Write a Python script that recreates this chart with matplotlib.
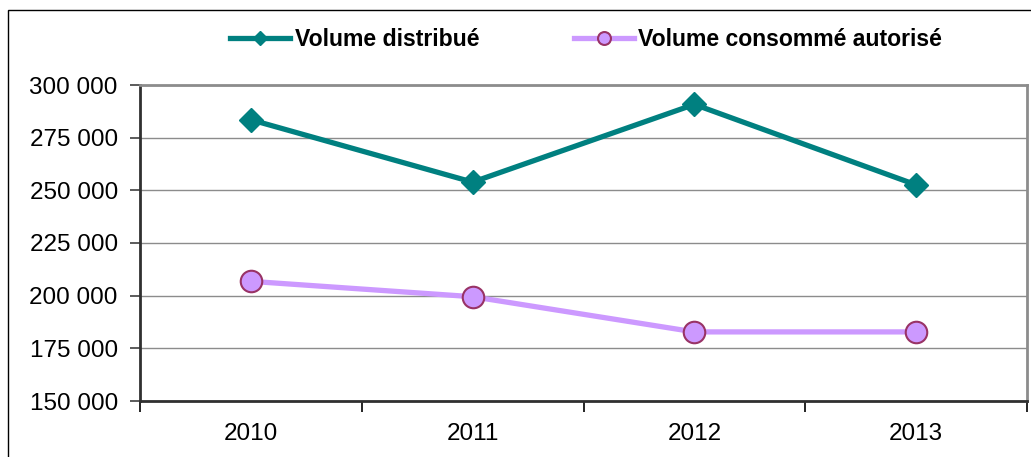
import matplotlib.pyplot as plt
from matplotlib.patches import Rectangle

plt.rcParams['font.family'] = ['Liberation Sans', 'DejaVu Sans']

# Data
years = ['2010', '2011', '2012', '2013']
vol_distribue = [283500, 253900, 290800, 252600]
vol_consomme = [206800, 199500, 182800, 182800]
y_ticks = [150000, 175000, 200000, 225000, 250000, 275000, 300000]

fig = plt.figure(figsize=(10.31, 4.57), dpi=100)
ax = fig.add_axes([140/1031, 1-401/457, (1027-140)/1031, (401-85)/457])

x = list(range(len(years)))

ax.plot(x, vol_distribue, color='#008080', lw=3.8, marker='D', ms=12.5,
        markerfacecolor='#008080', markeredgecolor='#008080',
        label='Volume distribué', zorder=3)
ax.plot(x, vol_consomme, color='#CC99FF', lw=3.8, marker='o', ms=15.5,
        markerfacecolor='#CC99FF', markeredgecolor='#993366', markeredgewidth=1.5,
        label='Volume consommé autorisé', zorder=3)

ax.set_xlim(-0.5, 3.5)
ax.set_ylim(150000, 300000)
ax.set_yticks(y_ticks)
ax.set_yticklabels([f'{v:,}'.replace(',', ' ') for v in y_ticks])
ax.set_xticks(x)
ax.set_xticklabels(years)
ax.set_xticks([-0.5, 0.5, 1.5, 2.5, 3.5], minor=True)

ax.tick_params(axis='x', which='major', length=0, pad=16, labelsize=17.5)
ax.tick_params(axis='x', which='minor', length=8, width=1.2, color='black')
ax.tick_params(axis='y', length=7, width=1.2, color='#404040', pad=9, labelsize=17.5)

ax.grid(axis='y', color='#8c8c8c', lw=1)
ax.set_axisbelow(True)

ax.spines['left'].set_color('#303030')
ax.spines['left'].set_linewidth(2)
ax.spines['bottom'].set_color('#303030')
ax.spines['bottom'].set_linewidth(2)
ax.spines['top'].set_color('#8c8c8c')
ax.spines['top'].set_linewidth(2)
ax.spines['right'].set_color('#8c8c8c')
ax.spines['right'].set_linewidth(2)

leg = fig.legend(loc='center', bbox_to_anchor=(586/1031, 1-40/457), ncol=2,
                 frameon=False, prop={'weight': 'bold', 'size': 16.6},
                 handlelength=2.6, handletextpad=0.2, columnspacing=4.1,
                 markerscale=0.6)

# outer chart frame
fig.patches.append(Rectangle((8/1031, -0.1), 1.2, 1.1 - 10/457, transform=fig.transFigure,
                             fill=False, edgecolor='black', lw=1))

fig.savefig('out.png', dpi=100)
